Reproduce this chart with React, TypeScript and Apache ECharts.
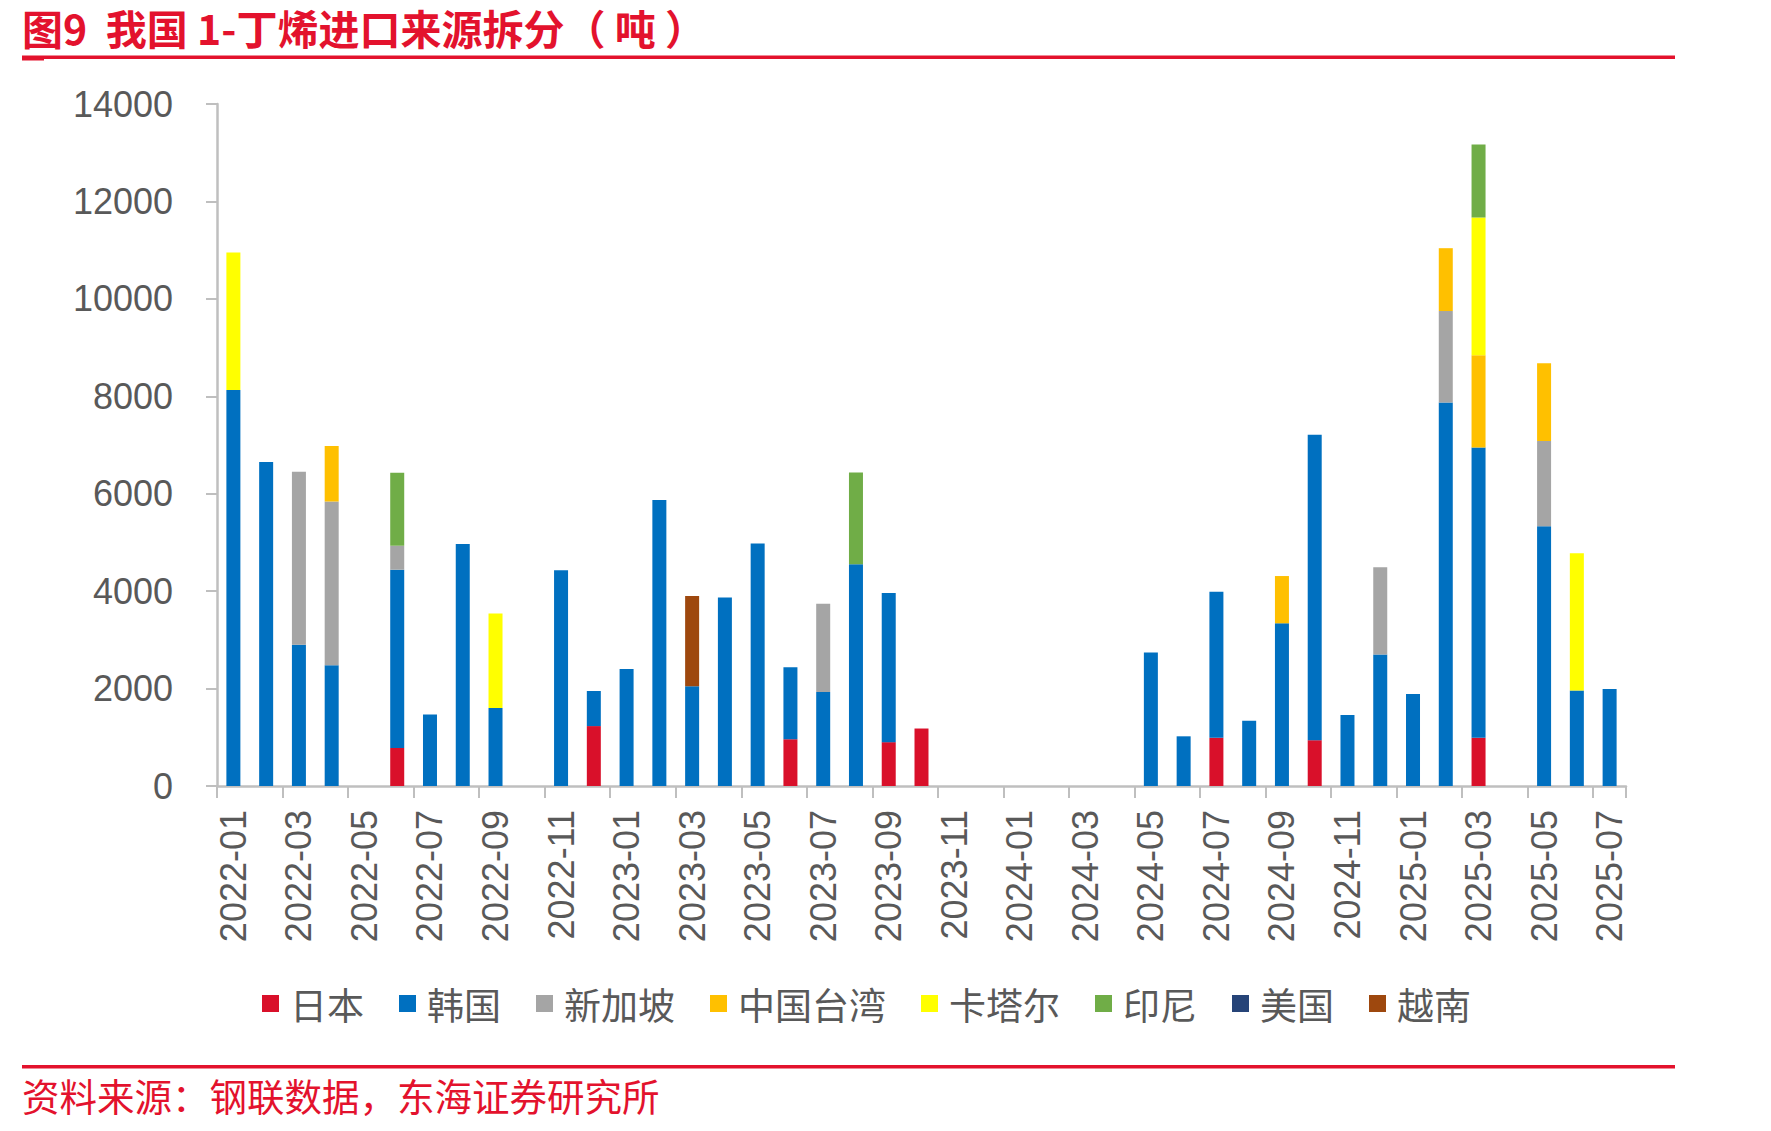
import React, { useEffect, useRef } from "react";
import * as echarts from "echarts";

// Monthly 1-butene imports by origin, tonnes
const months = [
  "2022-01", "2022-02", "2022-03", "2022-04", "2022-05", "2022-06", "2022-07", "2022-08",
  "2022-09", "2022-10", "2022-11", "2022-12", "2023-01", "2023-02", "2023-03", "2023-04",
  "2023-05", "2023-06", "2023-07", "2023-08", "2023-09", "2023-10", "2023-11", "2023-12",
  "2024-01", "2024-02", "2024-03", "2024-04", "2024-05", "2024-06", "2024-07", "2024-08",
  "2024-09", "2024-10", "2024-11", "2024-12", "2025-01", "2025-02", "2025-03", "2025-04",
  "2025-05", "2025-06", "2025-07",
];

const _ = null;

const japan = [
  _, _, _, _, _, 780, _, _, _, _, _, 1230, _, _, _, _,
  _, 960, _, _, 900, 1180, _, _, _, _, _, _, _, _, 990, _,
  _, 940, _, _, _, _, 990, _, _, _, _,
];
const korea = [
  8130, 6650, 2900, 2480, _, 3660, 1470, 4970, 1600, _, 4430, 720, 2400, 5870, 2050, 3870,
  4980, 1480, 1930, 4550, 3060, _, _, _, _, _, _, _, 2740, 1020, 3000, 1340,
  3340, 6270, 1460, 2700, 1890, 7870, 5960, _, 5330, 1960, 1990,
];
const singapore = [
  _, _, 3550, 3360, _, 490, _, _, _, _, _, _, _, _, _, _,
  _, _, 1810, _, _, _, _, _, _, _, _, _, _, _, _, _,
  _, _, _, 1790, _, 1880, _, _, 1750, _, _,
];
const taiwan = [
  _, _, _, 1140, _, _, _, _, _, _, _, _, _, _, _, _,
  _, _, _, _, _, _, _, _, _, _, _, _, _, _, _, _,
  970, _, _, _, _, 1290, 1890, _, 1600, _, _,
];
const qatar = [
  2820, _, _, _, _, _, _, _, 1940, _, _, _, _, _, _, _,
  _, _, _, _, _, _, _, _, _, _, _, _, _, _, _, _,
  _, _, _, _, _, _, 2830, _, _, 2820, _,
];
const indonesia = [
  _, _, _, _, _, 1500, _, _, _, _, _, _, _, _, _, _,
  _, _, _, 1885, _, _, _, _, _, _, _, _, _, _, _, _,
  _, _, _, _, _, _, 1500, _, _, _, _,
];
const usa: (number | null)[] = months.map(() => null);
const vietnam = [
  _, _, _, _, _, _, _, _, _, _, _, _, _, _, 1850, _,
  _, _, _, _, _, _, _, _, _, _, _, _, _, _, _, _,
  _, _, _, _, _, _, _, _, _, _, _,
];

const seriesNames = ["日本", "韩国", "新加坡", "中国台湾", "卡塔尔", "印尼", "美国", "越南"];
const seriesData = [japan, korea, singapore, taiwan, qatar, indonesia, usa, vietnam];
const seriesColors = ["#D9102A", "#0070C0", "#A5A5A5", "#FFC000", "#FFFF00", "#70AD47", "#264478", "#9E480E"];

const yMax = 14000;
const yStep = 2000;

const RED = "#E3122D";
const AXIS_GREY = "#BFBFBF";
const TEXT_GREY = "#595959";
const CJK = '"Noto Sans CJK SC", "Noto Sans", sans-serif';
const LATIN = '"Liberation Sans", Arial, sans-serif';

export default function App() {
  const ref = useRef<HTMLDivElement>(null);

  useEffect(() => {
    if (!ref.current) return;
    const chart = echarts.init(ref.current, undefined, { renderer: "svg" });

    chart.setOption({
      animation: false,
      backgroundColor: "#FFFFFF",
      grid: { left: 217, top: 104, right: 145, bottom: 345, containLabel: false },
      legend: {
        left: 257,
        top: 980,
        itemWidth: 17,
        itemHeight: 17,
        itemGap: 35,
        icon: "rect",
        data: seriesNames,
        textStyle: {
          fontFamily: CJK,
          fontSize: 37,
          color: TEXT_GREY,
          padding: [0, 0, 0, 6],
        },
      },
      xAxis: {
        type: "category",
        data: months,
        boundaryGap: true,
        axisLine: { show: true, lineStyle: { color: AXIS_GREY, width: 2.5 } },
        axisTick: {
          show: true,
          interval: 1,
          alignWithLabel: false,
          length: 12,
          lineStyle: { color: AXIS_GREY, width: 2 },
        },
        axisLabel: {
          interval: 1,
          rotate: 90,
          margin: 24,
          fontFamily: LATIN,
          fontSize: 36,
          color: TEXT_GREY,
        },
        splitLine: { show: false },
      },
      yAxis: {
        type: "value",
        min: 0,
        max: yMax,
        interval: yStep,
        axisLine: { show: true, lineStyle: { color: AXIS_GREY, width: 2.5 } },
        axisTick: { show: true, length: 11, lineStyle: { color: AXIS_GREY, width: 2 } },
        axisLabel: {
          margin: 44,
          fontFamily: LATIN,
          fontSize: 36,
          color: TEXT_GREY,
          formatter: (v: number) => String(v),
        },
        splitLine: { show: false },
      },
      series: seriesNames.map((name, i) => ({
        name,
        type: "bar",
        stack: "total",
        barWidth: 14,
        data: seriesData[i],
        itemStyle: { color: seriesColors[i] },
      })),
      graphic: [
        {
          type: "text",
          style: {
            x: 22,
            y: 27,
            text: "图9  我国 1-丁烯进口来源拆分（ 吨 ）",
            fontFamily: CJK,
            fontWeight: "bold",
            fontSize: 41,
            lineHeight: 42,
            fill: RED,
            verticalAlign: "middle",
          },
        },
        {
          type: "rect",
          shape: { x: 22, y: 55.5, width: 1653, height: 3.5 },
          style: { fill: RED },
        },
        {
          type: "rect",
          shape: { x: 22, y: 57.5, width: 22, height: 3 },
          style: { fill: RED },
        },
        {
          type: "rect",
          shape: { x: 22, y: 1065, width: 1653, height: 3.5 },
          style: { fill: RED },
        },
        {
          type: "text",
          style: {
            x: 22,
            y: 1094,
            text: "资料来源：钢联数据，东海证券研究所",
            fontFamily: CJK,
            fontSize: 37.5,
            fill: RED,
            verticalAlign: "middle",
          },
        },
      ],
    });

    return () => chart.dispose();
  }, []);

  return (
    <div
      ref={ref}
      style={{ position: "fixed", left: 0, top: 0, width: 1771, height: 1131 }}
    />
  );
}
